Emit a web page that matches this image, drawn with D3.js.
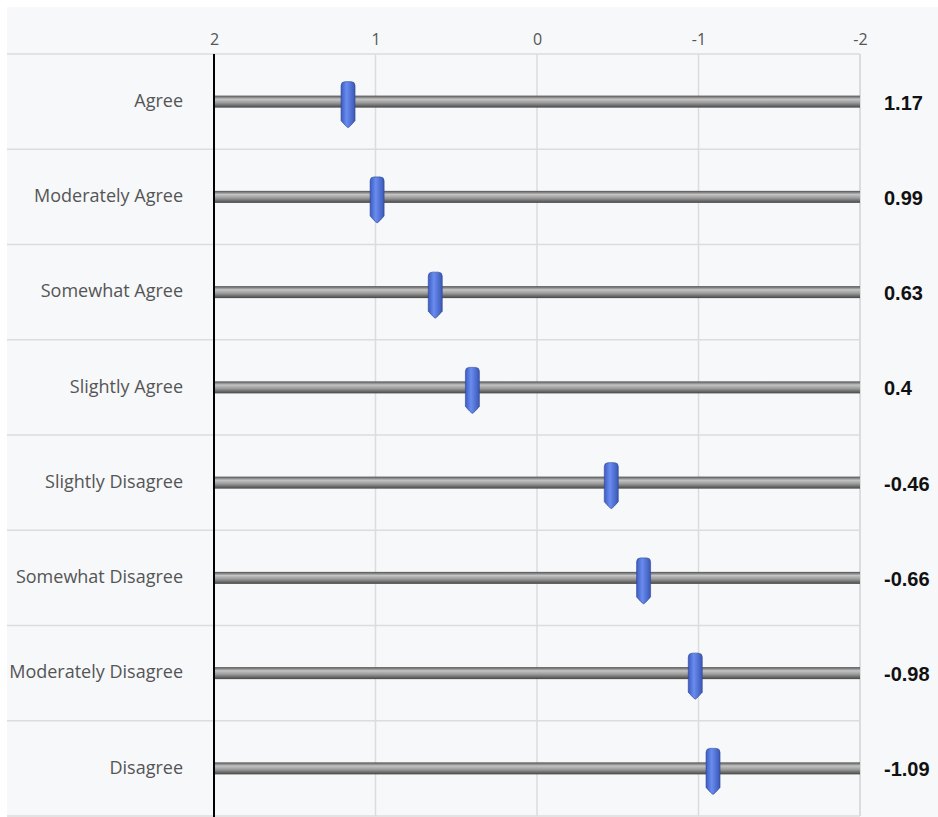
<!DOCTYPE html>
<html>
<head>
<meta charset="utf-8">
<script src="https://cdn.jsdelivr.net/npm/d3@7"></script>
<style>
  body { margin: 0; background: #fff; }
  text { font-family: "Open Sans", "Noto Sans", sans-serif; }
</style>
</head>
<body>
<svg></svg>
<script>
// mean score per answer category
var categories = ["Agree", "Moderately Agree", "Somewhat Agree", "Slightly Agree",
                  "Slightly Disagree", "Somewhat Disagree", "Moderately Disagree", "Disagree"];
var values = [1.17, 0.99, 0.63, 0.4, -0.46, -0.66, -0.98, -1.09];
var tickValues = [2, 1, 0, -1, -2];

var width = 938;
var height = 817;
var plotLeft = 214, plotRight = 860, plotTop = 54, plotBottom = 816;

var svg = d3.select('svg')
            .attr('width', width)
            .attr('height', height);

var defs = svg.append('defs');
var barGrad = defs.append('linearGradient')
                  .attr('id', 'barGrad')
                  .attr('x1', 0).attr('y1', 0).attr('x2', 0).attr('y2', 1);
barGrad.append('stop').attr('offset', '0%').attr('stop-color', '#505050');
barGrad.append('stop').attr('offset', '30%').attr('stop-color', '#c4c4c4');
barGrad.append('stop').attr('offset', '60%').attr('stop-color', '#9a9a9a');
barGrad.append('stop').attr('offset', '100%').attr('stop-color', '#454545');

var markGrad = defs.append('linearGradient')
                   .attr('id', 'markGrad')
                   .attr('x1', 0).attr('y1', 0).attr('x2', 1).attr('y2', 0);
markGrad.append('stop').attr('offset', '0%').attr('stop-color', '#3d5cc0');
markGrad.append('stop').attr('offset', '40%').attr('stop-color', '#6a8cf0');
markGrad.append('stop').attr('offset', '100%').attr('stop-color', '#3a58b4');

// panel background
svg.append('rect')
   .attr('x', 7).attr('y', 7)
   .attr('width', width - 7).attr('height', height - 7)
   .attr('fill', '#f6f8fa');

var xScale = d3.scaleLinear()
               .domain([2, -2])
               .range([plotLeft, plotRight]);

var yScale = d3.scaleBand()
               .domain(categories)
               .range([plotTop, plotBottom]);

// vertical grid
svg.selectAll('.vgrid')
   .data(tickValues.slice(1))
   .enter()
   .append('line')
     .attr('x1', d => xScale(d)).attr('x2', d => xScale(d))
     .attr('y1', plotTop).attr('y2', plotBottom)
     .attr('stroke', '#dcdcdc')
     .attr('stroke-width', d => d === -2 ? 2 : 1.5);

// row separators
svg.selectAll('.hgrid')
   .data(categories.map(c => yScale(c)).concat([plotBottom]))
   .enter()
   .append('line')
     .attr('x1', 7).attr('x2', plotRight)
     .attr('y1', d => d).attr('y2', d => d)
     .attr('stroke', '#dcdcdc')
     .attr('stroke-width', 1.5);

// tick labels on top
svg.append('g')
   .attr('transform', 'translate(0,' + plotTop + ')')
   .call(d3.axisTop(xScale).tickValues(tickValues).tickSize(0).tickPadding(9).tickFormat(d => String(d)))
   .call(g => g.select('.domain').remove())
   .selectAll('text')
     .attr('fill', '#555')
     .style('font-size', '16px')
     .style('font-family', '"Open Sans", sans-serif');

// track bars
svg.selectAll('.track')
   .data(categories)
   .enter()
   .append('rect')
     .attr('x', plotLeft)
     .attr('y', d => yScale(d) + yScale.bandwidth() / 2 - 6)
     .attr('width', plotRight - plotLeft)
     .attr('height', 12)
     .attr('fill', 'url(#barGrad)');

// baseline at 2
svg.append('line')
   .attr('x1', plotLeft).attr('x2', plotLeft)
   .attr('y1', plotTop).attr('y2', height)
   .attr('stroke', '#000')
   .attr('stroke-width', 2);

// markers
var mw = 14;
svg.selectAll('.marker')
   .data(values)
   .enter()
   .append('path')
     .attr('d', (d, i) => {
       var cx = xScale(d);
       var cy = yScale(categories[i]) + yScale.bandwidth() / 2;
       var t = cy - 20, b = cy + 26;
       return 'M' + (cx - mw / 2) + ',' + (t + 4) +
              ' Q' + (cx - mw / 2) + ',' + t + ' ' + (cx - mw / 2 + 4) + ',' + t +
              ' L' + (cx + mw / 2 - 4) + ',' + t +
              ' Q' + (cx + mw / 2) + ',' + t + ' ' + (cx + mw / 2) + ',' + (t + 4) +
              ' L' + (cx + mw / 2) + ',' + (b - 7) +
              ' Q' + (cx + 2) + ',' + (b - 1) + ' ' + cx + ',' + b +
              ' Q' + (cx - 2) + ',' + (b - 1) + ' ' + (cx - mw / 2) + ',' + (b - 7) + ' Z';
     })
     .attr('fill', 'url(#markGrad)')
     .attr('stroke', '#2d4596')
     .attr('stroke-width', 0.6);

// category labels
svg.selectAll('.cat')
   .data(categories)
   .enter()
   .append('text')
     .attr('x', 183)
     .attr('y', d => yScale(d) + yScale.bandwidth() / 2 - 1)
     .attr('dy', '0.35em')
     .style('text-anchor', 'end')
     .style('font-size', '18px')
     .attr('fill', '#555')
     .text(d => d);

// value labels
svg.selectAll('.val')
   .data(values)
   .enter()
   .append('text')
     .attr('x', 884)
     .attr('y', (d, i) => yScale(categories[i]) + yScale.bandwidth() / 2 + 1)
     .attr('dy', '0.35em')
     .style('font-size', '20px')
     .style('font-weight', 'bold')
     .style('font-family', '"Liberation Sans", Arial, sans-serif')
     .attr('fill', '#111')
     .text(d => d);
</script>
</body>
</html>
